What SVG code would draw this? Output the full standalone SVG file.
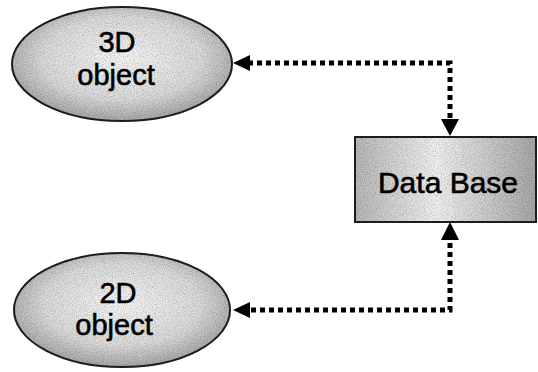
<svg xmlns="http://www.w3.org/2000/svg" width="538" height="372" viewBox="0 0 538 372">
<style>
.lbl{font-family:"Liberation Sans",Arial,sans-serif;font-size:29px;fill:#000;stroke:#000;stroke-width:0.6;text-anchor:middle}
.node{stroke:#222;stroke-width:2;filter:url(#grain)}
.conn{fill:none;stroke:#000;stroke-width:5;stroke-dasharray:5 4}
</style>
<defs>
<radialGradient id="g" cx="50%" cy="45%" r="60%">
<stop offset="0" stop-color="#f6f6f6"/>
<stop offset="0.6" stop-color="#dcdcdc"/>
<stop offset="1" stop-color="#9a9a9a"/>
</radialGradient>
<linearGradient id="gb" x1="0" y1="0" x2="1" y2="0">
<stop offset="0" stop-color="#b8b8b8"/>
<stop offset="0.45" stop-color="#f2f2f2"/>
<stop offset="1" stop-color="#a8a8a8"/>
</linearGradient>
<filter id="grain" x="-5%" y="-5%" width="110%" height="110%">
<feTurbulence type="fractalNoise" baseFrequency="0.9" numOctaves="2" seed="3" result="n"/>
<feColorMatrix in="n" type="matrix" values="0 0 0 0 0  0 0 0 0 0  0 0 0 0 0  0 0 0 0.9 -0.35" result="dots"/>
<feComposite in="dots" in2="SourceGraphic" operator="in" result="d2"/>
<feMerge><feMergeNode in="SourceGraphic"/><feMergeNode in="d2"/></feMerge>
</filter>
</defs>
<g id="connectors">
<path class="conn" d="M450,118 L450,63 L250,63"/>
<polygon points="233,63 250,55 250,71" fill="#000"/>
<polygon points="450,136 441,119 459,119" fill="#000"/>
<path class="conn" d="M450,243 L450,310 L250,310"/>
<polygon points="233,310 250,302 250,318" fill="#000"/>
<polygon points="450,222 441,240 459,240" fill="#000"/>
</g>
<g id="node-3d">
<ellipse class="node" cx="122" cy="64" rx="110" ry="57" fill="url(#g)"/>
<text class="lbl" x="117" y="52">3D</text>
<text class="lbl" x="116" y="85">object</text>
</g>
<g id="node-2d">
<ellipse class="node" cx="122" cy="310" rx="108" ry="57" fill="url(#g)"/>
<text class="lbl" x="118" y="303">2D</text>
<text class="lbl" x="114" y="335">object</text>
</g>
<g id="node-db">
<rect class="node" x="355" y="137" width="181" height="85" fill="url(#gb)"/>
<text class="lbl" x="448" y="193" style="font-size:30px">Data Base</text>
</g>
</svg>
